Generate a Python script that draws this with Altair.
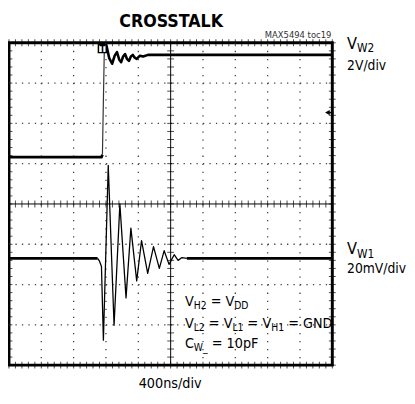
import altair as alt
import pandas as pd

# ---------------- data (screen divisions: x 0..10, y -4..4) ----------------
# V_W2 trace (upper, 2V/div)
w2_low_x = [0.0, 2.86, 2.89]
w2_low_y = [1.16, 1.16, 1.22]
w2_step_x = [2.89, 2.95]
w2_step_y = [1.22, 3.90]
w2_ring_x = [2.95, 3.01, 3.10, 3.19, 3.27, 3.34, 3.41, 3.47, 3.53, 3.59, 3.65,
             3.71, 3.77, 3.83, 3.89, 3.95, 4.05, 4.15, 4.30, 10.0]
w2_ring_y = [3.90, 3.95, 3.62, 3.48, 3.68, 3.77, 3.58, 3.52, 3.66, 3.72, 3.60,
             3.55, 3.66, 3.70, 3.63, 3.60, 3.68, 3.66, 3.70, 3.70]

# V_W1 trace (lower, 20mV/div)
w1_left_x = [0.0, 2.74]
w1_left_y = [-1.35, -1.35]
w1_ring_x = [2.74, 2.80, 2.86, 2.92, 3.07, 3.25, 3.43, 3.62, 3.77, 3.95, 4.10,
             4.29, 4.47, 4.65, 4.80, 4.95, 5.11, 5.23, 5.35, 5.50]
w1_ring_y = [-1.35, -1.42, -1.55, -3.38, 0.96, -3.01, 0.00, -2.33, -0.60, -1.91,
             -0.91, -1.72, -1.06, -1.60, -1.16, -1.50, -1.26, -1.40, -1.33, -1.35]
w1_right_x = [5.50, 10.0]
w1_right_y = [-1.35, -1.35]

GRID_X = [1, 2, 3, 4, 6, 7, 8, 9]
GRID_Y = [-3, -2, -1, 1, 2, 3]
MINOR_X = [round(i * 0.2, 1) for i in range(51)]
MINOR_Y = [round(-4 + i * 0.2, 1) for i in range(41)]

TITLE = "CROSSTALK"
TOC = "MAX5494 toc19"
XLABEL = "400ns/div"

FONT = "DejaVu Sans Condensed, DejaVu Sans, sans-serif"

PW, PH = 329, 328
xs = alt.Scale(domain=[0, 10], nice=False, zero=False)
ys = alt.Scale(domain=[-4, 4], nice=False, zero=False)
XE = dict(scale=xs, axis=None)
YE = dict(scale=ys, axis=None)


def line_layer(xv, yv, width, color="black"):
    df = pd.DataFrame({"x": xv, "y": yv, "o": list(range(len(xv)))})
    return alt.Chart(df).mark_line(color=color, strokeWidth=width, strokeJoin="round").encode(
        x=alt.X("x:Q", **XE),
        y=alt.Y("y:Q", **YE),
        order="o:Q",
    )


layers = []

# dotted grid
layers.append(alt.Chart(pd.DataFrame({"x": GRID_X, "y": [4] * len(GRID_X), "y2": [-4] * len(GRID_X)})).mark_rule(
    color="#444", strokeWidth=1.3, strokeDash=[1.3, 6.9]).encode(
    x=alt.X("x:Q", **XE), y=alt.Y("y:Q", **YE), y2="y2:Q"))
layers.append(alt.Chart(pd.DataFrame({"y": GRID_Y, "x": [0] * len(GRID_Y), "x2": [10] * len(GRID_Y)})).mark_rule(
    color="#444", strokeWidth=1.3, strokeDash=[1.3, 5.28]).encode(
    y=alt.Y("y:Q", **YE), x=alt.X("x:Q", **XE), x2="x2:Q"))

# center cross
layers.append(alt.Chart(pd.DataFrame({"x": [5], "y": [4], "y2": [-4]})).mark_rule(color="black", strokeWidth=1).encode(
    x=alt.X("x:Q", **XE), y=alt.Y("y:Q", **YE), y2="y2:Q"))
layers.append(alt.Chart(pd.DataFrame({"y": [0], "x": [0], "x2": [10]})).mark_rule(color="black", strokeWidth=1).encode(
    y=alt.Y("y:Q", **YE), x=alt.X("x:Q", **XE), x2="x2:Q"))

# minor ticks on the center cross and on the frame
for xc in [0, 5, 10]:
    layers.append(alt.Chart(pd.DataFrame({"y": MINOR_Y, "x": [xc] * len(MINOR_Y)})).mark_tick(
        color="black", orient="horizontal", size=7, thickness=1).encode(
        x=alt.X("x:Q", **XE), y=alt.Y("y:Q", **YE)))
for yc in [-4, 0, 4]:
    layers.append(alt.Chart(pd.DataFrame({"x": MINOR_X, "y": [yc] * len(MINOR_X)})).mark_tick(
        color="black", orient="vertical", size=7, thickness=1).encode(
        y=alt.Y("y:Q", **YE), x=alt.X("x:Q", **XE)))

# traces
layers.append(line_layer(w2_low_x, w2_low_y, 2.8))
layers.append(line_layer(w2_step_x, w2_step_y, 1.2, "#333"))
layers.append(line_layer(w2_ring_x, w2_ring_y, 2.6))
layers.append(line_layer(w1_left_x, w1_left_y, 2.8))
layers.append(line_layer(w1_ring_x, w1_ring_y, 1.3))
layers.append(line_layer(w1_right_x, w1_right_y, 2.8))

# ---------------- text ----------------
# approximate DejaVu Sans advance widths (per 1000 em); condensed ~0.9
ADV = {"V": 684, "W": 989, "H": 752, "L": 557, "D": 770, "G": 775, "N": 748, "C": 698,
       "F": 575, "p": 635, " ": 318, "=": 838, "_": 500}
COND = 0.9


def tw(s, fs):
    return sum(ADV.get(c, 636) for c in s) / 1000 * fs * COND


def add_text(t, px, py, fs, weight="normal", align="left", baseline="middle", color="black"):
    layers.append(alt.Chart(pd.DataFrame({"t": [t]})).mark_text(
        font=FONT, fontSize=fs, fontWeight=weight, align=align, baseline=baseline,
        color=color).encode(x=alt.value(px), y=alt.value(py), text="t:N"))


def add_rich(pieces, x0, yc, fm, fsub, sub_dy, gap=1.0):
    x = x0
    for s, kind in pieces:
        if kind == "m":
            add_text(s, x, yc, fm)
            x += tw(s, fm)
        elif kind == "s":
            add_text(s, x, yc + sub_dy, fsub)
            x += tw(s, fsub)
        else:
            x += tw(s, fm) * gap


ANN1 = [("V", "m"), ("H2", "s"), (" ", "g"), ("=", "m"), (" ", "g"), ("V", "m"), ("DD", "s")]
ANN2 = [("V", "m"), ("L2", "s"), (" ", "g"), ("=", "m"), (" ", "g"), ("V", "m"), ("L1", "s"),
        (" ", "g"), ("=", "m"), (" ", "g"), ("V", "m"), ("H1", "s"), (" ", "g"), ("=", "m"),
        (" ", "g"), ("GND", "m")]
ANN3 = [("C", "m"), ("W_", "s"), (" ", "g"), ("=", "m"), (" ", "g"), ("10pF", "m")]

add_rich(ANN1, 179, 264, 14.5, 10.5, 4)
add_rich(ANN2, 179, 286, 14.5, 10.5, 4)
add_rich(ANN3, 179, 307, 14.5, 10.5, 4)

add_rich([("V", "m"), ("W2", "s")], 344, 1, 16.5, 12, 4.5)
add_text("2V/div", 344, 24, 14)
add_rich([("V", "m"), ("W1", "s")], 344, 210, 16.5, 12, 4.5)
add_text("20mV/div", 344, 230, 14)

add_text(TITLE, 165, -21, 18, weight="bold", align="center")
add_text(TOC, 328, -8, 9.5, align="right", color="#333")
add_text(XLABEL, 164, 347, 14.5, align="center")

# trigger marker "T" and channel arrow
layers.append(alt.Chart(pd.DataFrame({"a": [0]})).mark_square(
    size=64, fill="white", stroke="black", strokeWidth=1.5, opacity=1).encode(
    x=alt.value(95), y=alt.value(6)))
add_text("T", 95, 6.5, 9, weight="bold", align="center")
layers.append(alt.Chart(pd.DataFrame({"a": [0]})).mark_point(
    shape="triangle-left", size=30, filled=True, color="black", opacity=1).encode(
    x=alt.value(324), y=alt.value(71)))
layers.append(alt.Chart(pd.DataFrame({"a": [0]})).mark_rule(color="black", strokeWidth=1.5).encode(
    x=alt.value(325), x2=alt.value(330), y=alt.value(71)))

chart = alt.layer(*layers).properties(
    width=PW, height=PH,
    padding={"left": 1, "top": 32, "right": 76, "bottom": 28},
    autosize=alt.AutoSizeParams(type="none"),
    background="white",
).configure_view(stroke="black", strokeWidth=3)

chart.save("out.html", embed_options={"renderer": "svg", "actions": False})
